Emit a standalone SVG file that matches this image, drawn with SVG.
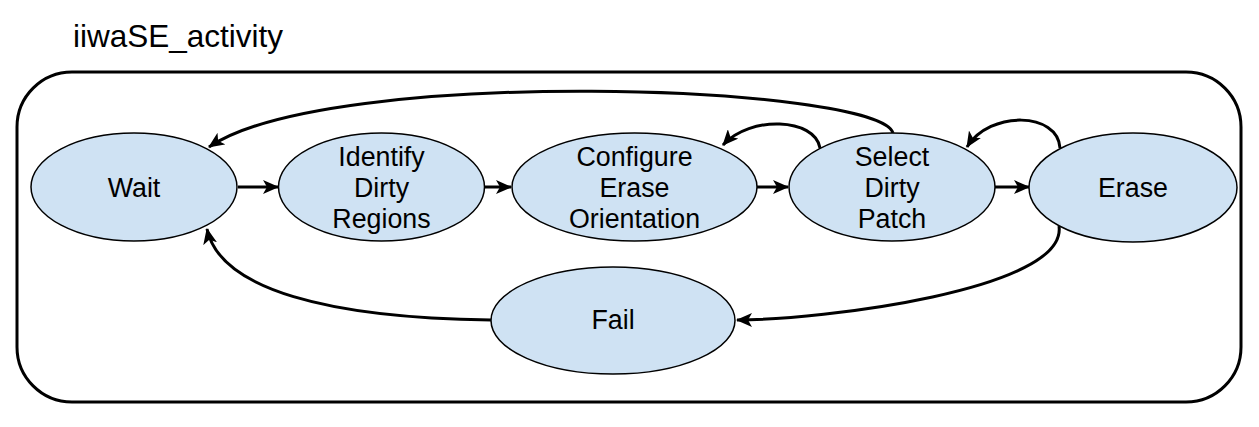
<svg xmlns="http://www.w3.org/2000/svg" width="1259" height="427" viewBox="0 0 1259 427">
<style>
.node ellipse{fill:#cfe2f3;stroke:#000;stroke-width:1.5}
.node text,.title{font-family:"Liberation Sans",Arial,sans-serif;fill:#000}
.node text{font-size:26.8px;text-anchor:middle}
.title{font-size:31.5px}
.edge{fill:none;stroke:#000;stroke-width:3;marker-end:url(#arr)}
</style>
<defs>
<marker id="arr" markerUnits="userSpaceOnUse" viewBox="0 0 16 14" refX="15" refY="7" markerWidth="16" markerHeight="14" orient="auto">
<path d="M0,0 L16,7 L0,14 L4,7 Z" fill="#000"/>
</marker>
</defs>
<rect fill="#fff" width="1259" height="427"/>
<text class="title" x="73" y="47">iiwaSE_activity</text>
<rect id="container" x="17" y="72" width="1224" height="330" rx="55" ry="55" fill="none" stroke="#000" stroke-width="3"/>
<g id="connectors">
<path class="edge" d="M238 187 L278 187"/>
<path class="edge" d="M485 187 L511 187"/>
<path class="edge" d="M757 187 L788 187"/>
<path class="edge" d="M995 187 L1029 187"/>
<path class="edge" d="M893 133 C880 85, 330 65, 209 147"/>
<path class="edge" d="M820 148 C815 118, 750 115, 723 145"/>
<path class="edge" d="M1060 148 C1058 112, 990 110, 967 147"/>
<path class="edge" d="M1059 226 C1068 290, 820 320, 737 320"/>
<path class="edge" d="M491 320 C330 318, 220 290, 207 229"/>
</g>
<g id="wait" class="node"><ellipse cx="134" cy="187" rx="103" ry="54"/><text x="134" y="197">Wait</text></g>
<g id="identify" class="node"><ellipse cx="381.5" cy="187" rx="103" ry="54"/><text x="381.5" y="166">Identify</text><text x="381.5" y="197">Dirty</text><text x="381.5" y="228">Regions</text></g>
<g id="configure" class="node"><ellipse cx="634.5" cy="187" rx="122.5" ry="54"/><text x="634.5" y="166">Configure</text><text x="634.5" y="197">Erase</text><text x="634.5" y="228">Orientation</text></g>
<g id="select" class="node"><ellipse cx="892" cy="187" rx="103" ry="54"/><text x="892" y="166">Select</text><text x="892" y="197">Dirty</text><text x="892" y="228">Patch</text></g>
<g id="erase" class="node"><ellipse cx="1133" cy="187.5" rx="104" ry="54.5"/><text x="1133" y="197">Erase</text></g>
<g id="fail" class="node"><ellipse cx="613" cy="320.5" rx="122" ry="53.5"/><text x="613" y="329">Fail</text></g>
</svg>
